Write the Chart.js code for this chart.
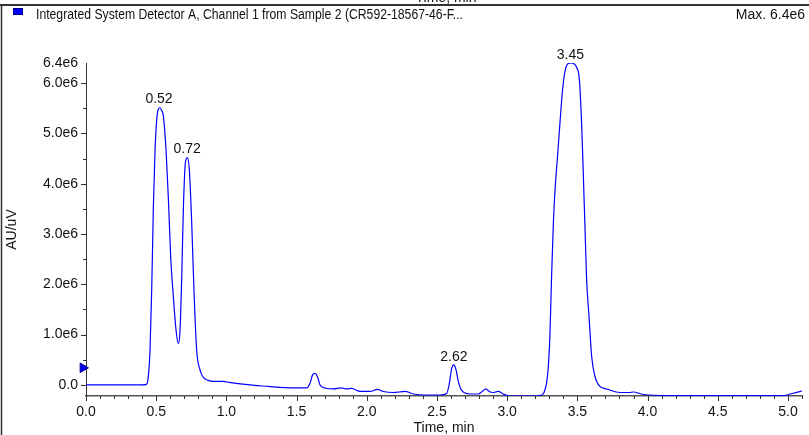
<!DOCTYPE html>
<html>
<head>
<meta charset="utf-8">
<script src="https://cdn.jsdelivr.net/npm/chart.js@4/dist/chart.umd.min.js"></script>
<style>
  html, body { margin: 0; padding: 0; background: #ffffff; }
  #wrap { width: 809px; height: 435px; }
</style>
</head>
<body>
<div id="wrap"><canvas id="c" width="809" height="435"></canvas></div>
<script>
// ---- data ----
const seriesName = "Integrated System Detector A, Channel 1 from Sample 2 (CR592-18567-46-F...";
const maxLabel = "Max. 6.4e6";
const xTitle = "Time, min";
const yTitle = "AU/uV";

const times = [
  0.00, 0.20, 0.40, 0.43, 0.444, 0.456, 0.468, 0.480, 0.492, 0.504, 0.515, 0.527, 0.540, 0.551,
  0.570, 0.587, 0.603, 0.622, 0.641, 0.658, 0.670, 0.682, 0.694, 0.708, 0.722, 0.736, 0.753,
  0.769, 0.788, 0.812, 0.836, 0.870, 0.907, 0.950, 0.978, 1.02, 1.10, 1.20, 1.30, 1.38,
  1.571, 1.595, 1.614, 1.631, 1.648, 1.667, 1.702, 1.762, 1.821, 1.857, 1.893, 1.952, 2.023,
  2.075, 2.118, 2.189, 2.272, 2.332, 2.403, 2.522, 2.569, 2.588, 2.605, 2.619, 2.636, 2.652,
  2.676, 2.735, 2.794, 2.822, 2.848, 2.872, 2.900, 2.936, 2.971, 3.019, 3.185, 3.234, 3.256,
  3.269, 3.280, 3.293, 3.305, 3.317, 3.329, 3.341, 3.357, 3.376, 3.395, 3.412, 3.435, 3.455,
  3.471, 3.495, 3.514, 3.530, 3.542, 3.554, 3.566, 3.583, 3.602, 3.625, 3.661, 3.709, 3.803,
  3.870, 3.898, 3.970, 4.160, 4.500, 4.970, 5.030, 5.100
];
const signal = [
  0.00e6, 0.00e6, 0.00e6, 0.01e6, 0.17e6, 0.70e6, 1.89e6, 3.55e6, 4.68e6, 5.28e6, 5.48e6, 5.51e6, 5.45e6, 5.35e6,
  4.68e6, 3.69e6, 2.56e6, 1.76e6, 1.10e6, 0.82e6, 1.10e6, 2.16e6, 3.55e6, 4.42e6, 4.52e6, 4.28e6, 3.22e6,
  1.89e6, 0.70e6, 0.30e6, 0.15e6, 0.09e6, 0.07e6, 0.07e6, 0.07e6, 0.05e6, 0.02e6, -0.01e6, -0.03e6, -0.05e6,
  -0.06e6, 0.03e6, 0.20e6, 0.23e6, 0.17e6, 0.00e6, -0.06e6, -0.08e6, -0.06e6, -0.08e6, -0.07e6, -0.13e6, -0.13e6,
  -0.09e6, -0.13e6, -0.15e6, -0.13e6, -0.18e6, -0.20e6, -0.20e6, -0.17e6, 0.03e6, 0.33e6, 0.40e6, 0.30e6, 0.07e6,
  -0.11e6, -0.18e6, -0.18e6, -0.13e6, -0.08e6, -0.13e6, -0.15e6, -0.13e6, -0.18e6, -0.22e6, -0.22e6, -0.21e6, -0.18e6,
  -0.10e6, 0.03e6, 0.36e6, 1.03e6, 2.22e6, 3.22e6, 3.88e6, 4.48e6, 5.21e6, 5.88e6, 6.24e6, 6.39e6, 6.40e6,
  6.39e6, 6.31e6, 6.08e6, 5.21e6, 4.22e6, 3.15e6, 2.09e6, 1.36e6, 0.56e6, 0.17e6, -0.03e6, -0.08e6, -0.15e6,
  -0.15e6, -0.14e6, -0.19e6, -0.21e6, -0.21e6, -0.21e6, -0.17e6, -0.12e6
];

const peakTimes = [0.52, 0.72, 2.62, 3.45];
const peakHeights = [5.52e6, 4.52e6, 0.40e6, 6.40e6];
const peakLabels = ["0.52", "0.72", "2.62", "3.45"];

const xMajorTicks = [0.0, 0.5, 1.0, 1.5, 2.0, 2.5, 3.0, 3.5, 4.0, 4.5, 5.0];
const yMajorTicks = [0, 1e6, 2e6, 3e6, 4e6, 5e6, 6e6, 6.4e6];
const yTickLabels = ["0.0", "1.0e6", "2.0e6", "3.0e6", "4.0e6", "5.0e6", "6.0e6", "6.4e6"];
const xMinorStep = 0.1;
const yMinorStep = 0.5e6;
const xRange = [0, 5.1];
const yRange = [-0.22e6, 6.4e6];
const markerPoint = [{x: -0.022, y: 0.34e6}];

// ---- chart ----
const FONT = '"Liberation Sans", Arial, sans-serif';
const BLUE = '#0000ff';

const pts = times.map((t, i) => ({x: t, y: signal[i]}));

const decor = {
  id: 'decor',
  beforeDraw(chart) {
    const ctx = chart.ctx;
    ctx.save();
    ctx.fillStyle = '#ffffff';
    ctx.fillRect(0, 0, chart.width, chart.height);
    ctx.restore();
  },
  afterDatasetsDraw(chart) {
    const ctx = chart.ctx;
    const xs = chart.scales.x, ys = chart.scales.y;
    ctx.save();
    // tick marks
    ctx.strokeStyle = '#333';
    ctx.lineWidth = 1;
    const yAxisX = xs.left;
    const xAxisY = ys.bottom;
    for (let v = 0; v <= yRange[1] + 1; v += yMinorStep) {
      const py = Math.round(ys.getPixelForValue(v)) + 0.5;
      const major = Math.abs(v / 1e6 - Math.round(v / 1e6)) < 1e-6;
      const len = major ? 5 : 3;
      ctx.beginPath(); ctx.moveTo(yAxisX - len, py); ctx.lineTo(yAxisX, py); ctx.stroke();
    }
    const nMinor = Math.round((xRange[1] - xRange[0]) / xMinorStep);
    for (let i = 0; i <= nMinor; i++) {
      const v = i * xMinorStep;
      const px = Math.round(xs.getPixelForValue(v)) + 0.5;
      const major = (i % 5) === 0;
      const len = major ? 5 : 3;
      ctx.beginPath(); ctx.moveTo(px, xAxisY); ctx.lineTo(px, xAxisY + len); ctx.stroke();
    }
    // peak labels
    ctx.fillStyle = '#111';
    ctx.font = '14px ' + FONT;
    ctx.textAlign = 'center';
    ctx.textBaseline = 'middle';
    peakTimes.forEach((t, i) => {
      const px = xs.getPixelForValue(t);
      const py = ys.getPixelForValue(peakHeights[i]);
      ctx.fillText(peakLabels[i], px, py - 8);
    });
    ctx.restore();
  },
  afterDraw(chart) {
    const ctx = chart.ctx;
    const xs = chart.scales.x;
    ctx.save();
    // cut-off title from the panel above
    ctx.fillStyle = '#111';
    ctx.font = '14px ' + FONT;
    ctx.textAlign = 'center';
    ctx.textBaseline = 'alphabetic';
    ctx.fillText(xTitle, (xs.left + xs.right) / 2 + 2, 2);
    // frame lines
    ctx.strokeStyle = '#333';
    ctx.lineWidth = 2;
    ctx.beginPath(); ctx.moveTo(0, 5); ctx.lineTo(chart.width, 5); ctx.stroke();
    ctx.lineWidth = 1.5;
    ctx.beginPath(); ctx.moveTo(1.5, 5); ctx.lineTo(1.5, chart.height); ctx.stroke();
    // legend
    ctx.fillStyle = BLUE;
    ctx.fillRect(13, 8, 10, 7);
    ctx.strokeStyle = '#00008b';
    ctx.lineWidth = 1;
    ctx.strokeRect(13.5, 8.5, 9, 6);
    ctx.fillStyle = '#111';
    ctx.textBaseline = 'middle';
    // series name is set in a narrow face in the reference: condense to its width
    ctx.textAlign = 'left';
    const w = ctx.measureText(seriesName).width;
    const target = 427;
    ctx.save();
    ctx.translate(36, 15);
    ctx.scale(Math.min(1, target / w), 1);
    ctx.fillText(seriesName, 0, 0);
    ctx.restore();
    ctx.textAlign = 'right';
    ctx.fillText(maxLabel, 805, 15);
    ctx.restore();
  }
};

new Chart(document.getElementById('c'), {
  type: 'scatter',
  data: {
    datasets: [
      {
        label: seriesName,
        data: pts,
        showLine: true,
        borderColor: BLUE,
        borderWidth: 1.2,
        pointRadius: 0,
        cubicInterpolationMode: 'monotone',
        fill: false
      },
      {
        label: 'marker',
        data: markerPoint,
        showLine: false,
        pointStyle: 'triangle',
        rotation: 90,
        pointRadius: 5.5,
        backgroundColor: BLUE,
        borderColor: '#000080',
        borderWidth: 1,
        clip: false
      }
    ]
  },
  options: {
    responsive: false,
    animation: false,
    devicePixelRatio: 1,
    layout: { padding: { top: 63, right: 7, left: 0, bottom: 0 } },
    plugins: {
      legend: { display: false },
      tooltip: { enabled: false },
      title: { display: false }
    },
    scales: {
      x: {
        type: 'linear',
        min: xRange[0],
        max: xRange[1],
        afterBuildTicks(scale) { scale.ticks = xMajorTicks.map(v => ({value: v})); },
        afterFit(scale) { scale.height = 39; },
        grid: { display: false, drawTicks: false },
        border: { display: true, color: '#555', width: 1.5 },
        ticks: {
          autoSkip: false, maxRotation: 0, padding: 8,
          color: '#111', font: { family: FONT, size: 14 },
          callback: v => Number(v).toFixed(1)
        },
        title: {
          display: true, text: xTitle, color: '#111',
          font: { family: FONT, size: 14, lineHeight: 1 },
          padding: { top: 0, bottom: 0 }
        }
      },
      y: {
        type: 'linear',
        min: yRange[0],
        max: yRange[1],
        afterBuildTicks(scale) { scale.ticks = yMajorTicks.map(v => ({value: v})); },
        afterFit(scale) { scale.width = 86; },
        grid: { display: false, drawTicks: false },
        border: { display: true, color: '#333', width: 1 },
        ticks: {
          autoSkip: false, padding: 8,
          color: '#111', font: { family: FONT, size: 14 },
          callback: function(v) { const i = yMajorTicks.indexOf(v); return i >= 0 ? yTickLabels[i] : ''; }
        },
        title: {
          display: true, text: yTitle, color: '#111',
          font: { family: FONT, size: 14, lineHeight: 1 },
          padding: { top: 5, bottom: 0 }
        }
      }
    }
  },
  plugins: [decor]
});
</script>
</body>
</html>
